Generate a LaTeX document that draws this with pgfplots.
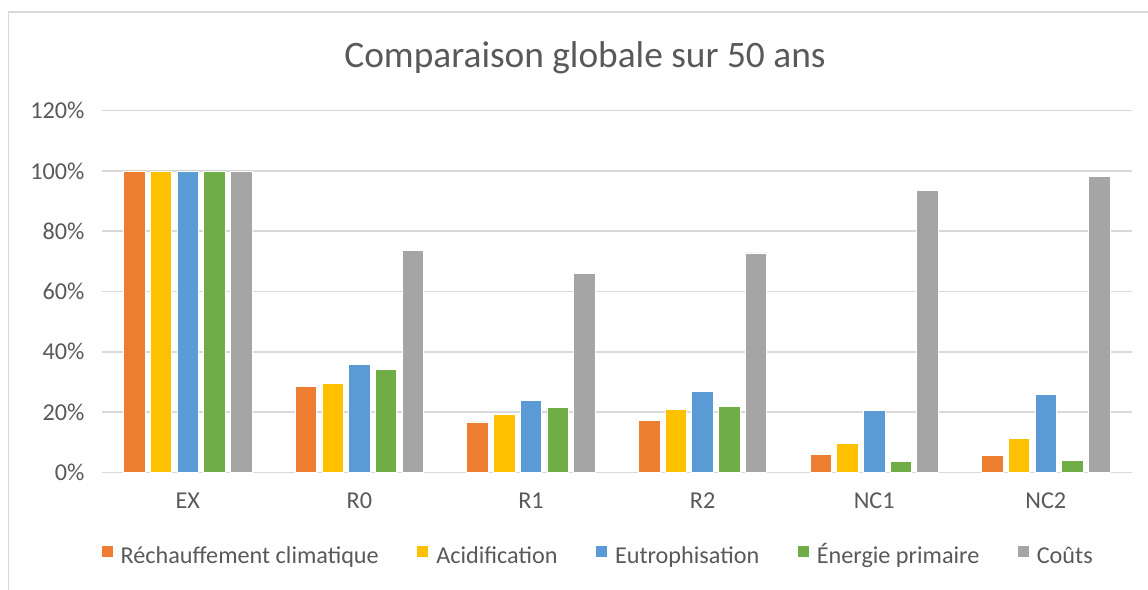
\documentclass[border=0pt]{standalone}
\usepackage{pgfplots}
\pgfplotsset{compat=1.18}
\usepackage{pgfplotstable}
\usepackage{fontspec}
\setmainfont{Carlito}

\definecolor{cRea}{HTML}{ED7D31}
\definecolor{cAci}{HTML}{FFC000}
\definecolor{cEut}{HTML}{5B9BD5}
\definecolor{cEne}{HTML}{70AD47}
\definecolor{cCou}{HTML}{A5A5A5}
\definecolor{txt}{HTML}{595959}
\definecolor{grd}{HTML}{D9D9D9}

% x: EX R0 R1 R2 NC1 NC2
\pgfplotstableread{
x  rea   aci   eut   ene   cou
0  100   100   100   100   100
1  28.6  29.5  35.8  34.2  73.7
2  16.7  19.3  23.9  21.4  66.1
3  17.1  20.9  26.9  21.9  72.8
4  5.8   9.6   20.6  3.6   93.5
5  5.7   11.3  25.7  4.0   98.2
}\data

\begin{document}
\begin{tikzpicture}[font=\fontsize{24.3}{29}\selectfont]
\useasboundingbox (-102bp,-117.7bp) rectangle (1046bp,472.3bp);
\draw[grd, line width=1.5bp] (-93.5bp,-117.7bp) -- (-93.5bp,460.3bp) -- (1046bp,460.3bp);
\node[anchor=base, text=txt, font=\fontsize{37.5}{44}\selectfont] at (483bp,404.3bp) {Comparaison globale sur 50 ans};
\begin{axis}[
    at={(0,0)}, anchor=south west,
    scale only axis,
    width=1029.6bp, height=361.6bp,
    xmin=-0.5, xmax=5.5, ymin=0, ymax=120,
    enlargelimits=false,
    axis line style={draw=none},
    major tick length=0pt,
    ymajorgrids, grid style={grd, line width=1.5bp},
    ytick={0,20,...,120},
    yticklabels={0\%,20\%,40\%,60\%,80\%,100\%,120\%},
    xtick={0,...,5},
    xticklabels={EX,R0,R1,R2,NC1,NC2},
    yticklabel style={text=txt, xshift=-14bp},
    xticklabel style={text=txt, yshift=-17bp},
    ybar, bar width=21.5bp,
    every axis plot/.append style={draw=white, line width=0.8bp},
    legend columns=5,
    legend style={at={(0.481,-0.234)}, anchor=center, draw=none, fill=none,
        text=txt, nodes={inner sep=0bp, text height=17bp, text depth=5bp},
        /tikz/every odd column/.append style={column sep=8bp},
        /tikz/every even column/.append style={column sep=38.5bp}},
    legend image code/.code={\fill[#1, draw=none] (0bp,0.5bp) rectangle (11bp,11.5bp);},
]
\addplot[fill=cRea, bar shift=-53.4bp] table[x=x, y=rea] {\data};
\addplot[fill=cAci, bar shift=-26.7bp] table[x=x, y=aci] {\data};
\addplot[fill=cEut, bar shift=0bp] table[x=x, y=eut] {\data};
\addplot[fill=cEne, bar shift=26.7bp] table[x=x, y=ene] {\data};
\addplot[fill=cCou, bar shift=53.4bp] table[x=x, y=cou] {\data};
\legend{Réchauffement climatique, Acidification, Eutrophisation, Énergie primaire, Coûts}
\end{axis}
\end{tikzpicture}
\end{document}
